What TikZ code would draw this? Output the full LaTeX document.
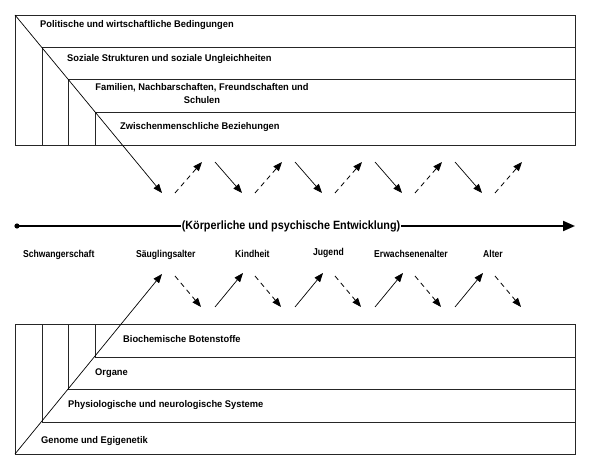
\documentclass[tikz,border=0pt]{standalone}
\usepackage{fontspec}
\setmainfont{Liberation Sans}
\newfontfamily\boxfont{Liberation Sans}[FakeStretch=0.96]
\newfontfamily\agefont{Liberation Sans}[FakeStretch=0.86]
\newfontfamily\titlefont{Liberation Sans}[FakeStretch=0.9]
\usetikzlibrary{arrows.meta}
\tikzset{
  boxline/.style={draw=black!85, line width=0.9pt},
  boxtext/.style={font=\boxfont\bfseries\fontsize{9.7}{11}\selectfont, inner sep=0pt, anchor=base west},
  agetext/.style={font=\agefont\bfseries\fontsize{10}{11}\selectfont, inner sep=0pt, anchor=base west},
  titletext/.style={font=\titlefont\bfseries\fontsize{12}{14}\selectfont, inner sep=1pt},
  solidarrow/.style={line width=0.7pt, -{Triangle[length=9pt,width=7pt]}},
  dasharrow/.style={line width=0.8pt, dash pattern=on 5pt off 4pt, -{Triangle[length=9pt,width=7pt]}},
  axisline/.style={line width=2pt},
}
\begin{document}
\begin{tikzpicture}[x=1pt,y=-1pt]
\fill[white] (0,0) rectangle (591,470);
\useasboundingbox (0,0) rectangle (591,470);

% top nested boxes
\draw[boxline] (15,15) rectangle (575,145);
\draw[boxline] (42,47) rectangle (575,145);
\draw[boxline] (68,79) rectangle (575,145);
\draw[boxline] (95,112) rectangle (575,145);
\node[boxtext] (pol) at (40,27.5) {Politische und wirtschaftliche Bedingungen};
\node[boxtext] (soz) at (67,62) {Soziale Strukturen und soziale Ungleichheiten};
\node[boxtext, anchor=base] (fam1) at (202,91) {Familien, Nachbarschaften, Freundschaften und};
\node[boxtext, anchor=base] (fam2) at (202,103.5) {Schulen};
\node[boxtext] (zwi) at (120,130) {Zwischenmenschliche Beziehungen};

% bottom nested boxes
\draw[boxline] (15,324) rectangle (575,454);
\draw[boxline] (42,324) rectangle (575,422);
\draw[boxline] (68,324) rectangle (575,389);
\draw[boxline] (95,324) rectangle (575,357);
\node[boxtext] (bio) at (123,342.5) {Biochemische Botenstoffe};
\node[boxtext] (org) at (95,375) {Organe};
\node[boxtext] (phy) at (68,407) {Physiologische und neurologische Systeme};
\node[boxtext] (gen) at (41,443.3) {Genome und Egigenetik};

% axis
\coordinate (axstart) at (17,226);
\coordinate (axend) at (575,226);
\node[titletext] (title) at (291,226) {(Körperliche und psychische Entwicklung)};
\fill (axstart) circle (2.6pt);
\draw[axisline] (axstart) -- (title.west);
\draw[axisline, -{Triangle[length=12pt,width=10pt]}] (title.east) -- (axend);

% age labels
\node[agetext] (schw) at (23,257) {Schwangerschaft};
\node[agetext] (saeug) at (136,257) {Säuglingsalter};
\node[agetext] (kind) at (235,257) {Kindheit};
\node[agetext] (jug) at (313,255.5) {Jugend};
\node[agetext] (erw) at (374,257) {Erwachsenenalter};
\node[agetext] (alt) at (483,257) {Alter};

% diagonals
\coordinate (dtop0) at (15,15);
\coordinate (dtop1) at (162,193);
\coordinate (dbot0) at (15,454);
\coordinate (dbot1) at (162,274);
\draw[solidarrow] (dtop0) -- (dtop1);
\draw[solidarrow] (dbot0) -- (dbot1);

% top arrows
\foreach \i/\x in {1/215,2/295,3/375,4/455}{
  \coordinate (tsa\i) at (\x,162);
  \coordinate (tsb\i) at (\x+27,193);
  \draw[solidarrow] (tsa\i) -- (tsb\i);
}
\foreach \i/\x in {1/175,2/255,3/335,4/415,5/495}{
  \coordinate (tda\i) at (\x,193);
  \coordinate (tdb\i) at (\x+27,162);
  \draw[dasharrow] (tda\i) -- (tdb\i);
}
% bottom arrows
\foreach \i/\x in {1/215,2/295,3/375,4/455}{
  \coordinate (bsa\i) at (\x,307);
  \coordinate (bsb\i) at (\x+28,273);
  \draw[solidarrow] (bsa\i) -- (bsb\i);
}
\foreach \i/\x in {1/175,2/255,3/335,4/415,5/495}{
  \coordinate (bda\i) at (\x,276);
  \coordinate (bdb\i) at (\x+26,307);
  \draw[dasharrow] (bda\i) -- (bdb\i);
}
\end{tikzpicture}
\end{document}
